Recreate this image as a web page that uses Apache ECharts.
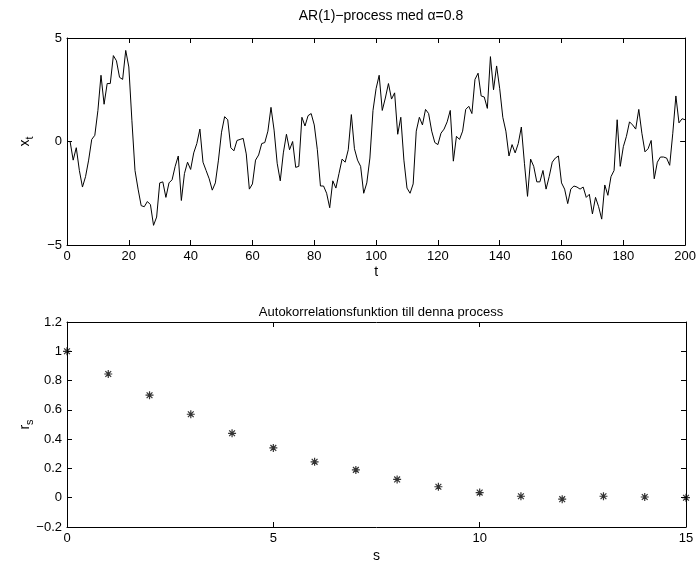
<!DOCTYPE html>
<html>
<head>
<meta charset="utf-8">
<script src="https://cdn.jsdelivr.net/npm/echarts@6/dist/echarts.min.js"></script>
<style>
  html, body { margin: 0; padding: 0; background: #fff; }
  #chart { width: 699px; height: 564px; }
</style>
</head>
<body>
<div id="chart"></div>
<script>
// AR(1)-process, t = 0..200
const xt = [
  0.0, 0.0, -0.9, -0.3, -1.4, -2.2, -1.7, -0.9, 0.1, 0.3, 1.5,
  3.2, 1.8, 2.8, 2.8, 4.15, 3.9, 3.1, 3.0, 4.4, 3.6,
  1.0, -1.4, -2.3, -3.1, -3.15, -2.9, -3.05, -4.05, -3.65, -2.0,
  -1.95, -2.7, -2.0, -1.85, -1.2, -0.7, -2.85, -1.55, -1.0, -1.35,
  -0.55, -0.1, 0.6, -1.0, -1.4, -1.8, -2.35, -2.0, -0.9, 0.45,
  1.2, 1.05, -0.3, -0.45, 0.05, 0.1, 0.15, -0.6, -2.3, -2.05,
  -0.9, -0.65, -0.1, -0.05, 0.5, 1.65, 0.55, -1.05, -1.9, -0.55,
  0.35, -0.4, 0.0, -1.25, -1.2, 1.17, 0.75, 1.25, 1.35, 0.8,
  -0.4, -2.15, -2.15, -2.5, -3.2, -1.9, -2.25, -1.55, -0.85, -1.0,
  -0.4, 1.3, -0.35, -0.9, -1.2, -2.5, -2.0, -0.8, 1.5, 2.55,
  3.2, 1.5, 2.1, 2.8, 2.05, 2.35, 0.35, 1.17, -0.9, -2.25,
  -2.5, -2.05, 0.5, 1.17, 0.8, 1.55, 1.35, 0.5, -0.05, -0.15,
  0.4, 0.6, 0.95, 1.5, -0.95, 0.25, 0.1, 0.5, 1.55, 1.7,
  1.35, 3.0, 3.3, 2.2, 2.15, 1.6, 4.1, 2.5, 3.65, 2.55,
  1.17, 0.5, -0.7, -0.15, -0.55, -0.1, 0.7, -1.05, -2.65, -0.85,
  -1.2, -1.95, -1.95, -1.4, -2.3, -1.7, -1.0, -0.8, -0.7, -2.0,
  -2.3, -3.0, -2.3, -2.15, -2.2, -2.3, -2.2, -2.7, -2.55, -3.5,
  -2.7, -3.15, -3.75, -2.1, -2.6, -1.7, -1.4, 1.05, -1.2, -0.25,
  0.25, 0.95, 0.8, 0.6, 1.55, 0.4, -0.5, -0.35, 0.05, -1.8,
  -1.0, -0.75, -0.75, -0.8, -1.15, 0.4, 2.2, 0.9, 1.1, 1.05
]
// autokorrelation, s = 0..15
const rs = [1.0, 0.845, 0.70, 0.57, 0.44, 0.34, 0.245, 0.19, 0.125, 0.075, 0.035, 0.01, -0.01, 0.01, 0.005, 0.0]

const font = 'Liberation Sans, Arial, Helvetica, sans-serif'
const txt = { color: '#000', fontFamily: font, fontSize: 13 }
const fmt = v => String(Math.round(v * 10) / 10).replace('-', '−')

// axis used as box side with inward ticks
function boxAxis (extra) {
  return Object.assign({
    type: 'value',
    axisLine: { show: true, onZero: false, lineStyle: { color: '#000', width: 1 } },
    axisTick: { show: true, inside: true, length: 5, lineStyle: { color: '#000' } },
    splitLine: { show: false },
    axisLabel: Object.assign({ show: true, margin: 5, formatter: fmt }, txt),
    nameTextStyle: txt,
    nameMoveOverlap: false
  }, extra)
}

const subName = {
  rich: {
    a: Object.assign({}, txt, { fontSize: 14 }),
    b: Object.assign({}, txt, { fontSize: 11, padding: [9, 0, 0, 0] })
  }
}

const chart = echarts.init(document.getElementById('chart'))
chart.setOption({
  animation: false,
  backgroundColor: '#fff',
  title: [
    { text: 'AR(1)−process med α=0.8', left: 376, top: 4, textAlign: 'center', textStyle: Object.assign({}, txt, { fontWeight: 'normal', fontSize: 14 }) },
    { text: 'Autokorrelationsfunktion till denna process', left: 376, top: 301, textAlign: 'center', textStyle: Object.assign({}, txt, { fontWeight: 'normal', fontSize: 13 }) }
  ],
  grid: [
    { left: 67, top: 38, width: 619, height: 207 },
    { left: 67, top: 322, width: 619, height: 205 }
  ],
  xAxis: [
    boxAxis({ gridIndex: 0, min: 0, max: 200, interval: 20, name: 't', nameLocation: 'middle', nameGap: 20, nameTextStyle: Object.assign({}, txt, { fontSize: 14 }) }),
    boxAxis({ gridIndex: 0, min: 0, max: 200, interval: 20, position: 'top', axisLabel: { show: false } }),
    boxAxis({ gridIndex: 1, min: 0, max: 15, interval: 5, name: 's', nameLocation: 'middle', nameGap: 22, nameTextStyle: Object.assign({}, txt, { fontSize: 14 }) }),
    boxAxis({ gridIndex: 1, min: 0, max: 15, interval: 5, position: 'top', axisLabel: { show: false } })
  ],
  yAxis: [
    boxAxis({
      gridIndex: 0, min: -5, max: 5, interval: 5,
      name: '{a|x}{b|t}', nameLocation: 'middle', nameGap: 32, nameRotate: 90, nameTextStyle: subName
    }),
    boxAxis({ gridIndex: 0, min: -5, max: 5, interval: 5, position: 'right', axisLabel: { show: false } }),
    boxAxis({
      gridIndex: 1, min: -0.2, max: 1.2, interval: 0.2,
      name: '{a|r}{b|s}', nameLocation: 'middle', nameGap: 32, nameRotate: 90, nameTextStyle: subName
    }),
    boxAxis({ gridIndex: 1, min: -0.2, max: 1.2, interval: 0.2, position: 'right', axisLabel: { show: false } })
  ],
  series: [
    {
      type: 'line',
      xAxisIndex: 0,
      yAxisIndex: 0,
      data: xt.map((v, i) => [i, v]),
      symbol: 'none',
      lineStyle: { color: '#000', width: 1 }
    },
    {
      type: 'scatter',
      xAxisIndex: 2,
      yAxisIndex: 2,
      data: rs.map((v, i) => [i, v]),
      symbol: 'path://M0,-4L0,4M-4,0L4,0M-2.9,-2.9L2.9,2.9M-2.9,2.9L2.9,-2.9',
      symbolSize: 8,
      clip: false,
      itemStyle: { color: 'none', borderColor: '#000', borderWidth: 1.2 }
    }
  ]
})
</script>
</body>
</html>
